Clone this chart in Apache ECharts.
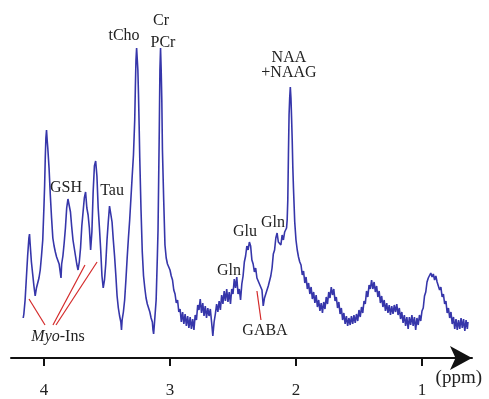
<!DOCTYPE html>
<html>
<head>
<meta charset="utf-8">
<script src="https://cdn.jsdelivr.net/npm/echarts@6/dist/echarts.min.js"></script>
<style>
  html, body { margin: 0; padding: 0; background: #fff; }
  #chart { width: 489px; height: 399px; }
</style>
</head>
<body>
<div id="chart"></div>
<script>
// [ppm, intensity]
const spectrum = [
  [4.165,40],[4.16,44],[4.15,58],[4.14,80],[4.13,102],[4.12,120],[4.115,124],[4.11,114],[4.10,96],[4.09,84],
  [4.08,72],[4.07,62],[4.06,70],[4.05,68],[4.04,80],[4.03,88],[4.02,102],[4.01,118],[4.00,153],[3.995,173],
  [3.99,200],[3.985,220],[3.98,228],[3.975,218],[3.97,210],[3.96,190],[3.95,163],[3.94,140],[3.93,120],[3.92,112],
  [3.91,106],[3.90,101],[3.89,100],[3.88,94],[3.87,96],[3.865,80],[3.86,94],[3.85,102],[3.84,115],[3.83,130],
  [3.82,150],[3.81,159],[3.80,158],[3.79,146],[3.78,131],[3.77,118],[3.76,110],[3.75,102],[3.74,94],[3.73,88],
  [3.72,96],[3.71,110],[3.70,132],[3.69,146],[3.68,160],[3.67,166],[3.66,150],[3.65,143],[3.64,130],[3.63,108],
  [3.62,126],[3.61,166],[3.60,192],[3.59,197],[3.58,182],[3.57,150],[3.56,130],[3.55,108],[3.54,82],[3.53,70],
  [3.52,78],[3.51,94],[3.50,118],[3.49,136],[3.48,152],[3.47,154],[3.46,136],[3.45,118],[3.44,102],[3.43,83],
  [3.42,62],[3.41,50],[3.40,42],[3.39,36],[3.385,28],[3.38,38],[3.37,46],[3.36,58],[3.35,78],[3.34,100],
  [3.33,120],[3.32,138],[3.31,160],[3.30,182],[3.29,203],[3.28,238],[3.275,270],[3.27,298],[3.265,310],[3.26,312],
  [3.255,288],[3.25,263],[3.245,233],[3.24,200],[3.23,148],[3.22,106],[3.21,82],[3.20,70],[3.19,60],[3.18,54],
  [3.17,52],[3.16,46],[3.15,40],[3.14,36],[3.135,28],[3.13,24],[3.125,32],[3.12,32],[3.11,58],[3.10,103],
  [3.095,128],[3.09,178],[3.085,228],[3.08,288],[3.075,310],[3.07,288],[3.065,258],[3.06,208],[3.05,158],[3.04,113],
  [3.03,100],[3.02,94],[3.01,95],[3.00,88],
  [2.99,82],[2.98,78],[2.97,68],[2.96,64],[2.95,55],[2.94,58],[2.93,46],[2.92,49],[2.91,36],[2.90,46],
  [2.89,34],[2.88,44],[2.87,32],[2.86,42],[2.85,30],[2.84,41],[2.83,29],[2.82,39],[2.81,28],[2.80,43],
  [2.79,38],[2.78,53],[2.77,48],[2.76,59],[2.75,45],[2.74,55],[2.73,42],[2.72,52],[2.71,40],[2.70,50],
  [2.69,42],[2.68,49],[2.67,36],[2.66,22],[2.65,36],[2.64,44],[2.63,54],[2.62,46],[2.61,57],[2.60,48],
  [2.59,63],[2.58,54],[2.57,67],[2.56,57],[2.55,69],[2.54,56],[2.53,66],[2.52,54],[2.51,69],[2.50,64],
  [2.49,79],[2.48,70],[2.47,81],[2.46,64],[2.45,69],[2.44,58],[2.43,74],[2.42,82],[2.41,96],[2.40,102],
  [2.39,112],[2.38,108],[2.37,116],[2.36,112],[2.35,98],[2.34,94],[2.33,86],[2.32,90],[2.31,80],[2.30,82],
  [2.29,74],[2.28,76],[2.27,68],[2.26,52],[2.25,60],[2.24,64],[2.23,63],[2.22,72],[2.21,74],[2.20,82],
  [2.19,90],[2.18,104],[2.17,108],[2.16,120],[2.15,125],[2.14,116],[2.13,118],[2.12,113],[2.11,123],[2.10,118],
  [2.09,126],[2.08,124],[2.075,130],[2.07,138],[2.065,158],[2.06,203],[2.055,243],[2.05,260],[2.045,271],[2.04,260],
  [2.035,240],[2.03,218],[2.025,190],[2.02,170],[2.01,136],[2.00,118],[1.99,108],[1.98,101],[1.97,96],[1.96,93],
  [1.95,83],[1.94,87],[1.93,75],[1.92,81],[1.91,69],[1.90,75],[1.89,64],[1.88,71],[1.87,59],[1.86,66],
  [1.85,55],[1.84,63],[1.83,51],[1.82,58],[1.81,47],[1.80,55],[1.79,45],[1.78,56],[1.77,49],[1.76,61],
  [1.75,54],[1.74,66],[1.73,60],[1.72,71],[1.71,63],[1.70,69],[1.69,57],[1.68,61],[1.67,50],[1.66,56],
  [1.65,44],[1.64,50],[1.63,38],[1.62,45],[1.61,34],[1.60,42],[1.59,32],[1.58,40],[1.57,33],[1.56,42],
  [1.55,34],[1.54,43],[1.53,35],[1.52,44],[1.51,37],[1.50,48],[1.49,41],[1.48,51],[1.47,45],[1.46,57],
  [1.45,54],[1.44,67],[1.43,61],[1.42,73],[1.41,69],[1.40,78],[1.39,69],[1.38,76],[1.37,66],[1.36,72],
  [1.35,61],[1.34,67],[1.33,55],[1.32,62],[1.31,51],[1.30,58],[1.29,47],[1.28,55],[1.27,45],[1.26,53],
  [1.25,43],[1.24,52],[1.23,44],[1.22,53],[1.21,46],[1.20,54],[1.19,43],[1.18,50],[1.17,39],[1.16,46],
  [1.15,35],[1.14,43],[1.13,32],[1.12,41],[1.11,29],[1.10,41],[1.09,33],[1.08,43],[1.07,32],[1.06,41],
  [1.05,28],[1.04,40],[1.03,33],[1.02,43],[1.01,37],[1.00,47],[0.99,50],[0.98,62],[0.97,66],[0.96,76],
  [0.95,80],[0.94,79],[0.93,85],[0.92,81],[0.91,84],[0.90,78],[0.89,82],[0.88,76],[0.87,78],[0.86,68],
  [0.85,71],[0.84,61],[0.83,64],[0.82,54],[0.81,57],[0.80,45],[0.79,50],[0.78,40],[0.77,46],[0.76,34],
  [0.75,41],[0.74,29],[0.73,39],[0.72,28],[0.71,38],[0.70,29],[0.69,40],[0.68,30],[0.67,39],[0.66,27],
  [0.65,38],[0.64,29],[0.635,36]
];

const tickPpm = [4, 3, 2, 1];

// metabolite names, placed at [ppm, intensity]
const peakNames = ['tCho', 'Cr', 'PCr', 'NAA', '+NAAG', 'GSH', 'Tau', 'Glu', 'Gln', 'Gln', 'GABA', '{i|Myo}-Ins'];
const peakPpm   = [3.365, 3.071, 3.056, 2.056, 2.056, 3.825, 3.460, 2.405, 2.532, 2.183, 2.246, 3.889];
const peakLevel = [322, 337, 315, 300, 285, 170, 167, 126, 87, 135, 27, 21];

// red pointer lines: [ppmFrom, levelFrom, ppmTo, levelTo]
const pointers = [
  [4.119, 59, 3.992, 33],
  [3.929, 33, 3.675, 93],
  [3.905, 33, 3.579, 96],
  [2.310, 67, 2.278, 38]
];

const serif = "'Liberation Serif', 'Times New Roman', serif";

const chart = echarts.init(document.getElementById('chart'));

chart.setOption({
  animation: false,
  grid: { left: 11, right: 17, top: 8, bottom: 41 },
  xAxis: {
    type: 'value',
    inverse: true,
    min: 0.603,
    max: 4.262,
    axisLine: {
      lineStyle: { color: '#111', width: 2 },
      symbol: ['none', 'arrow'],
      symbolSize: [18, 22]
    },
    axisTick: { customValues: tickPpm, length: 8, lineStyle: { color: '#111', width: 2 } },
    axisLabel: { customValues: tickPpm, margin: 24, fontSize: 17, fontFamily: serif, color: '#222' },
    splitLine: { show: false }
  },
  yAxis: { type: 'value', min: 0, max: 350, show: false },
  graphic: [{
    type: 'text',
    right: 7,
    top: 369,
    style: { text: '(ppm)', fontSize: 19, fontFamily: serif, fill: '#222' }
  }],
  series: [{
    type: 'line',
    data: spectrum,
    showSymbol: false,
    lineStyle: { color: '#3636aa', width: 1.6 },
    markPoint: {
      symbol: 'circle',
      symbolSize: 0,
      silent: true,
      label: {
        show: true,
        position: 'inside',
        color: '#222',
        fontSize: 16,
        fontFamily: serif,
        rich: { i: { fontStyle: 'italic', fontSize: 16, fontFamily: serif, color: '#222' } }
      },
      data: peakNames.map((n, k) => ({
        coord: [peakPpm[k], peakLevel[k]],
        label: { formatter: n }
      }))
    },
    markLine: {
      symbol: 'none',
      silent: true,
      label: { show: false },
      lineStyle: { color: '#d42a2a', width: 1.2, type: 'solid' },
      data: pointers.map(p => [{ coord: [p[0], p[1]] }, { coord: [p[2], p[3]] }])
    }
  }]
});
</script>
</body>
</html>
